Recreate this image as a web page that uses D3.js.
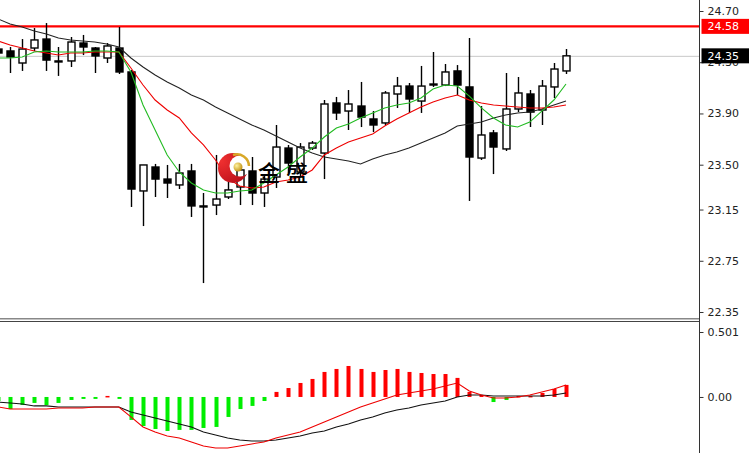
<!DOCTYPE html>
<html><head><meta charset="utf-8">
<script src="https://cdn.jsdelivr.net/npm/d3@7"></script>
<style>html,body{margin:0;padding:0;background:#fff;overflow:hidden}</style>
</head><body>
<svg id="c" width="750" height="453"></svg>
<script>
// ---- data ----
const openP  = [24.403,24.388,24.294,24.411,24.481,24.310,24.310,24.450,24.411,24.333,24.411,24.224,23.295,23.482,23.388,23.342,23.451,23.178,23.185,23.248,23.326,23.451,23.279,23.404,23.630,23.443,23.630,23.591,23.982,23.919,23.958,23.857,23.826,24.052,24.114,23.997,24.130,24.122,24.232,24.107,23.552,23.748,23.623,23.935,24.052,23.927,24.107,24.232];
const highP  = [24.435,24.419,24.481,24.567,24.606,24.419,24.497,24.513,24.419,24.450,24.575,24.239,23.498,23.506,23.498,23.506,23.506,23.279,23.576,23.365,23.498,23.560,23.420,23.810,23.654,23.669,23.685,24.005,24.029,24.083,24.146,23.919,24.075,24.185,24.138,24.271,24.380,24.286,24.278,24.489,23.958,23.771,24.216,24.185,24.083,24.161,24.294,24.403];
const lowP   = [24.349,24.216,24.232,24.388,24.232,24.193,24.263,24.356,24.216,24.294,24.208,23.170,23.021,23.248,23.240,23.310,23.092,22.576,23.107,23.232,23.185,23.185,23.170,23.318,23.435,23.412,23.615,23.388,23.849,23.771,23.794,23.755,23.810,23.943,23.904,23.904,24.107,24.114,24.044,23.217,23.537,23.427,23.607,23.911,23.794,23.810,24.021,24.208];
const closeP = [24.372,24.341,24.403,24.474,24.317,24.302,24.458,24.419,24.349,24.427,24.224,23.310,23.498,23.388,23.357,23.435,23.178,23.170,23.232,23.303,23.459,23.279,23.388,23.638,23.513,23.638,23.669,23.974,23.904,23.974,23.872,23.810,24.060,24.114,24.013,24.114,24.122,24.224,24.122,23.560,23.732,23.638,23.935,24.060,23.911,24.114,24.247,24.350];
const maFast = [24.333,24.333,24.341,24.380,24.388,24.380,24.380,24.380,24.388,24.388,24.380,24.224,23.966,23.771,23.576,23.443,23.357,23.303,23.279,23.279,23.295,23.303,23.357,23.420,23.482,23.560,23.630,23.716,23.787,23.818,23.865,23.904,23.943,23.966,23.982,24.021,24.091,24.122,24.114,24.036,23.943,23.865,23.810,23.794,23.833,23.919,24.005,24.130];
const maMid  = [24.466,24.435,24.411,24.388,24.372,24.356,24.372,24.372,24.380,24.380,24.380,24.255,24.122,24.005,23.927,23.865,23.748,23.654,23.537,23.396,23.334,23.318,23.326,23.365,23.381,23.404,23.459,23.576,23.630,23.677,23.709,23.740,23.802,23.857,23.904,23.951,23.990,24.021,24.044,24.005,23.982,23.966,23.958,23.951,23.943,23.943,23.951,23.966];
const maSlow = [24.638,24.599,24.575,24.544,24.520,24.489,24.474,24.466,24.458,24.442,24.419,24.333,24.263,24.200,24.146,24.099,24.044,24.005,23.951,23.904,23.857,23.810,23.771,23.724,23.677,23.630,23.591,23.560,23.545,23.529,23.506,23.545,23.576,23.599,23.630,23.669,23.709,23.748,23.802,23.818,23.833,23.865,23.888,23.904,23.911,23.935,23.966,23.997];
const macdHist = [-0.031,-0.093,-0.062,-0.046,-0.062,-0.046,-0.023,-0.015,-0.015,0.008,-0.015,-0.177,-0.224,-0.247,-0.262,-0.254,-0.254,-0.239,-0.231,-0.154,-0.093,-0.069,-0.031,0.039,0.069,0.108,0.139,0.193,0.216,0.239,0.216,0.193,0.208,0.216,0.193,0.185,0.177,0.177,0.147,0.039,0.015,-0.039,-0.023,0.008,0.008,0.031,0.062,0.093];
const macdMain = [-0.077,-0.093,-0.093,-0.093,-0.093,-0.085,-0.085,-0.085,-0.077,-0.077,-0.077,-0.154,-0.231,-0.270,-0.301,-0.316,-0.347,-0.378,-0.393,-0.393,-0.378,-0.362,-0.347,-0.316,-0.293,-0.270,-0.231,-0.193,-0.154,-0.116,-0.077,-0.046,-0.015,0.015,0.031,0.046,0.062,0.085,0.108,0.046,0.015,-0.008,-0.008,0.000,0.015,0.039,0.062,0.093];
const macdSignal = [-0.039,-0.046,-0.054,-0.069,-0.069,-0.077,-0.077,-0.077,-0.077,-0.077,-0.077,-0.116,-0.139,-0.162,-0.185,-0.208,-0.231,-0.270,-0.293,-0.316,-0.332,-0.339,-0.339,-0.332,-0.316,-0.301,-0.278,-0.262,-0.231,-0.208,-0.177,-0.154,-0.123,-0.100,-0.085,-0.062,-0.046,-0.031,0.000,0.015,0.015,0.008,0.008,0.008,0.008,0.008,0.015,0.031];
const priceTicks = [24.70,24.30,23.90,23.50,23.15,22.75,22.35];
const macdTicks = [0.501,0.00];
const resistance = 24.58;
const lastPrice = 24.35;
const logoText = ["金","盛"];

// ---- layout ----
const W=750, H=453, axisX=699.5, mainBottom=318, macdTop=321;
const svg = d3.select("#c");
const n = closeP.length;
const x = d3.scaleLinear().domain([0,n-1]).range([-2,566]);
const y = d3.scaleLinear().domain([22.35,24.70]).range([312,11]);
const ym = d3.scaleLinear().domain([-0.432,0.501]).range([453,332]);
const idx = d3.range(n);
const X = i => Math.round(x(i))+0.5;

const defs = svg.append("defs");
defs.append("clipPath").attr("id","mainClip").append("rect").attr("x",0).attr("y",0).attr("width",axisX).attr("height",mainBottom);
defs.append("clipPath").attr("id","macdClip").append("rect").attr("x",0).attr("y",macdTop+1).attr("width",axisX).attr("height",H-macdTop);

const main = svg.append("g").attr("clip-path","url(#mainClip)");

// horizontal lines
main.append("line").attr("x1",0).attr("x2",axisX).attr("y1",y(lastPrice)+0.5).attr("y2",y(lastPrice)+0.5)
  .attr("stroke","#c8c8c8").attr("stroke-width",1);
main.append("line").attr("x1",0).attr("x2",axisX).attr("y1",y(resistance)).attr("y2",y(resistance))
  .attr("stroke","#ff0000").attr("stroke-width",2.2);

// candles
const cg = main.append("g");
cg.selectAll("line.w").data(idx).join("line").attr("class","w")
  .attr("x1",X).attr("x2",X).attr("y1",i=>y(highP[i])).attr("y2",i=>y(lowP[i]))
  .attr("stroke","#000").attr("stroke-width",1.4);
cg.selectAll("rect.b").data(idx).join("rect").attr("class","b")
  .attr("x",i=>X(i)-3.5).attr("width",7)
  .attr("y",i=>y(Math.max(openP[i],closeP[i])))
  .attr("height",i=>Math.max(1,Math.abs(y(openP[i])-y(closeP[i]))))
  .attr("fill",i=>closeP[i]>openP[i]?"#fff":"#000")
  .attr("stroke","#000").attr("stroke-width",1.4);

// moving averages
const line = arr => d3.line().x(i=>x(i)).y(i=>y(arr[i]))(idx);
main.append("path").attr("d",line(maSlow)).attr("fill","none").attr("stroke","#222").attr("stroke-width",1.1);
main.append("path").attr("d",line(maMid)).attr("fill","none").attr("stroke","#ee0000").attr("stroke-width",1.1);
main.append("path").attr("d",line(maFast)).attr("fill","none").attr("stroke","#22bb22").attr("stroke-width",1.1);

// logo
const rg = defs.append("radialGradient").attr("id","redG").attr("cx","35%").attr("cy","35%").attr("r","70%");
rg.append("stop").attr("offset","0%").attr("stop-color","#f03030");
rg.append("stop").attr("offset","100%").attr("stop-color","#a00010");
const gg = defs.append("radialGradient").attr("id","goldG").attr("cx","35%").attr("cy","35%").attr("r","70%");
gg.append("stop").attr("offset","0%").attr("stop-color","#fff2a0");
gg.append("stop").attr("offset","100%").attr("stop-color","#c09010");
const mask = defs.append("mask").attr("id","cres");
mask.append("rect").attr("x",200).attr("y",140).attr("width",60).attr("height",60).attr("fill","#000");
mask.append("circle").attr("cx",233).attr("cy",168).attr("r",15).attr("fill","#fff");
mask.append("circle").attr("cx",240).attr("cy",166).attr("r",10.5).attr("fill","#000");
const logo = main.append("g");
logo.append("rect").attr("x",200).attr("y",140).attr("width",60).attr("height",60).attr("fill","url(#redG)").attr("mask","url(#cres)");
logo.append("path").attr("d","M233,155 A12,12 0 0 1 249,166").attr("fill","none").attr("stroke","#d8a828").attr("stroke-width",2.5);
logo.append("circle").attr("cx",238).attr("cy",167).attr("r",4.5).attr("fill","url(#goldG)");
logo.selectAll("text").data(logoText).join("text")
  .attr("x",(d,i)=>258+i*28).attr("y",181)
  .attr("font-family","Noto Sans CJK SC").attr("font-size",22).attr("font-weight",500).attr("fill","#000")
  .text(d=>d);

// MACD panel
const mg = svg.append("g").attr("clip-path","url(#macdClip)");
mg.selectAll("rect.h").data(idx).join("rect").attr("class","h")
  .attr("x",i=>Math.round(x(i))-1.5).attr("width",4)
  .attr("y",i=>Math.min(ym(0),ym(macdHist[i])))
  .attr("height",i=>Math.max(1.5,Math.abs(ym(macdHist[i])-ym(0))))
  .attr("fill",i=>macdHist[i]>=0?"#ff0000":"#00ee00");
const mline = arr => d3.line().x(i=>x(i)).y(i=>ym(arr[i]))(idx);
mg.append("path").attr("d",mline(macdSignal)).attr("fill","none").attr("stroke","#111").attr("stroke-width",1.1);
mg.append("path").attr("d",mline(macdMain)).attr("fill","none").attr("stroke","#ee0000").attr("stroke-width",1.1);

// frame lines
svg.append("rect").attr("x",0).attr("y",mainBottom).attr("width",axisX).attr("height",1.5).attr("fill","#888");
svg.append("line").attr("x1",0).attr("x2",axisX).attr("y1",macdTop+0.5).attr("y2",macdTop+0.5).attr("stroke","#444").attr("stroke-width",1);
svg.append("line").attr("x1",axisX).attr("x2",axisX).attr("y1",0).attr("y2",H).attr("stroke","#333").attr("stroke-width",1);

// price axis
const font = "DejaVu Sans";
const pa = svg.append("g").attr("transform",`translate(${axisX},0)`)
  .call(d3.axisRight(y).tickValues(priceTicks).tickSize(4).tickPadding(4).tickFormat(d3.format(".2f")));
pa.select(".domain").remove();
pa.selectAll("line").attr("stroke","#333");
pa.selectAll("text").attr("font-family",font).attr("font-size",11).attr("fill","#222");

const ma = svg.append("g").attr("transform",`translate(${axisX},0)`)
  .call(d3.axisRight(ym).tickValues(macdTicks).tickSize(4).tickPadding(4).tickFormat(d=>d===0?"0.00":d3.format(".3f")(d)));
ma.select(".domain").remove();
ma.selectAll("line").attr("stroke","#333");
ma.selectAll("text").attr("font-family",font).attr("font-size",11).attr("fill","#222");

// price labels
function tag(v,bg){
  const g = svg.append("g");
  g.append("rect").attr("x",axisX+2).attr("y",y(v)-7.5).attr("width",W-axisX-3).attr("height",15).attr("fill",bg);
  g.append("text").attr("x",axisX+8).attr("y",y(v)+4).attr("font-family",font).attr("font-size",11).attr("fill","#fff").text(d3.format(".2f")(v));
}
tag(resistance,"#ff0000");
tag(lastPrice,"#000");
</script>
</body></html>
